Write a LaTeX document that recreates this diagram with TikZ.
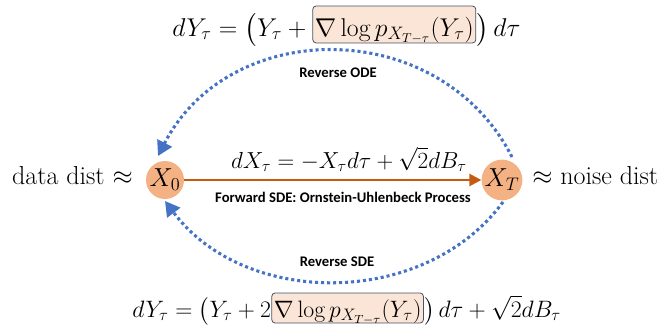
\RequirePackage{fix-cm}
\documentclass[tikz,border=0pt]{standalone}
\usepackage{amsmath}
\usepackage{fontspec}
\newfontfamily\lblfont{Carlito}
\usetikzlibrary{arrows.meta}
\definecolor{blu}{HTML}{4472C4}
\definecolor{orr}{HTML}{C55A11}
\definecolor{nodef}{HTML}{F4B183}
\definecolor{boxf}{HTML}{FBE5D6}
\definecolor{boxc}{HTML}{44546A}
\begin{document}
\begin{tikzpicture}[x=0.75pt,y=-0.75pt,
  every node/.style={inner sep=0pt},
  eq/.style={font=\fontsize{19.5}{23}\selectfont},
  eqt/.style={font=\fontsize{19.3}{23}\selectfont},
  eqb/.style={font=\fontsize{17.8}{21}\selectfont},
  eqm/.style={font=\fontsize{17.4}{20}\selectfont},
  hl/.style={draw=boxc, fill=boxf, rounded corners=2.5pt, line width=0.6pt, inner xsep=1.5pt, inner ysep=1pt},
  st/.style={circle, fill=nodef, minimum size=28.5pt, font=\fontsize{19.5}{23}\selectfont},
  lbl/.style={font=\lblfont\bfseries\fontsize{11}{13}\selectfont},
  rev/.style={draw=blu, line width=2.3pt, dash pattern=on 2.3pt off 2.2pt, -{Triangle[length=11pt,width=12pt]}},
  fwd/.style={draw=orr, line width=1.9pt, -{Triangle[length=9pt,width=9pt]}}]
\useasboundingbox (0,0) rectangle (671,325);

\node[st] (x0) at (165,180) {$X_0$};
\node[st] (xT) at (502,180) {$X_T$};
\node[eq, anchor=base east] (dl) at (133,184) {data dist $\approx$};
\node[eq, anchor=base west] (nl) at (532,184) {$\approx$ noise dist};
\draw[fwd] (x0) -- (xT);
\node[eqm, anchor=base] (feq) at (349,168) {$dX_\tau = -X_\tau d\tau + \sqrt{2}dB_\tau$};
\node[lbl] (flbl) at (343,197) {Forward SDE: Ornstein-Uhlenbeck Process};

\draw[rev] ([xshift=7.5pt,yshift=17.25pt]xT.center) .. controls (440,16) and (230,16) .. ([xshift=-5.25pt,yshift=18pt]x0.center);
\node[lbl] (rode) at (338,73) {Reverse ODE};
\draw[rev] ([xshift=0.75pt,yshift=-16.5pt]xT.center) .. controls (425,308) and (245,308) .. ([yshift=-15.75pt]x0.center);
\node[lbl] (rsde) at (337,262) {Reverse SDE};

\node[eqt, anchor=base west] (te1) at (172,36) {$dY_\tau = \big(Y_\tau + {}$};
\node[eqt, hl, text height=21.5pt, text depth=4.2pt, anchor=base west] (te2) at (te1.base east) {$\nabla \log p_{X_{T-\tau}}(Y_\tau)$};
\node[eqt, anchor=base west] (te3) at (te2.base east) {$\big)\,d\tau$};

\node[eqb, anchor=base west] (be1) at (132,317) {$dY_\tau = \big(Y_\tau + 2$};
\node[eqb, hl, text height=17pt, text depth=3.5pt, anchor=base west] (be2) at (be1.base east) {$\nabla \log p_{X_{T-\tau}}(Y_\tau)$};
\node[eqb, anchor=base west] (be3) at (be2.base east) {$\big)\,d\tau + \sqrt{2}dB_\tau$};
\end{tikzpicture}
\end{document}
